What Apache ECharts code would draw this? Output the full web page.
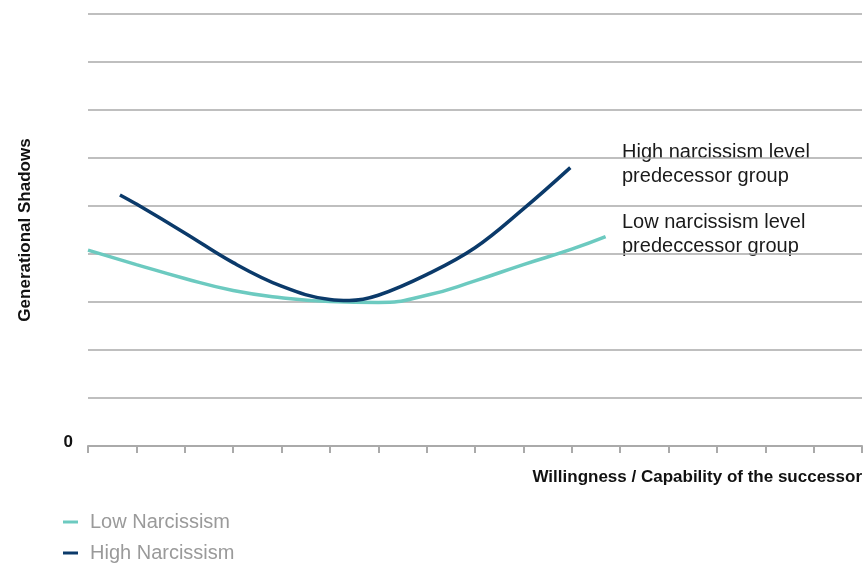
<!DOCTYPE html>
<html>
<head>
<meta charset="utf-8">
<script src="https://cdn.jsdelivr.net/npm/echarts@6/dist/echarts.min.js"></script>
<style>
  html, body { margin: 0; padding: 0; background: #fff; }
  #chart { width: 865px; height: 565px; }
</style>
</head>
<body>
<div id="chart"></div>
<script>
// x positions along the successor axis (0..16), y = generational shadows (0..9)
const lowX  = [0, 1, 2, 3, 4, 5, 6, 7, 8, 9, 10, 10.7];
const lowY  = [4.08, 3.78, 3.49, 3.24, 3.09, 3.01, 2.99, 3.14, 3.44, 3.78, 4.10, 4.36];
const highX = [0.66, 1, 2, 3, 4, 5, 5.4, 6, 7, 8, 9, 9.97];
const highY = [5.23, 5.04, 4.44, 3.82, 3.33, 3.05, 3.03, 3.14, 3.57, 4.13, 4.94, 5.80];

const seriesNames = ['Low Narcissism', 'High Narcissism'];
const seriesColors = ['#6ccac0', '#0b3a6a'];
const annotations = [
  ['High narcissism level', 'predecessor group'],
  ['Low narcissism level', 'predeccessor group']
];

const font = '"Liberation Sans", Arial, sans-serif';
const chart = echarts.init(document.getElementById('chart'));

function pairs(xs, ys) {
  return xs.map((x, i) => [x, ys[i]]);
}

chart.setOption({
  animation: false,
  textStyle: { fontFamily: font },
  grid: { left: 88, right: 1, top: 14, bottom: 119 },
  legend: {
    orient: 'vertical',
    left: 63,
    top: 512,
    padding: 0,
    icon: 'rect',
    itemWidth: 15,
    itemHeight: 3,
    itemGap: 11,
    data: seriesNames,
    textStyle: { color: '#9a9a9a', fontSize: 20, fontFamily: font, padding: [0, 0, 0, 7] }
  },
  xAxis: {
    type: 'value',
    min: 0,
    max: 16,
    interval: 1,
    name: 'Willingness / Capability of the successor',
    nameLocation: 'end',
    nameGap: 0,
    nameTextStyle: {
      align: 'right', verticalAlign: 'top', padding: [23, 0, 0, 0],
      fontWeight: 'bold', fontSize: 17, color: '#111', fontFamily: font
    },
    axisLine: { show: true, lineStyle: { color: '#aaaaaa', width: 2 } },
    axisTick: { show: true, length: 7, lineStyle: { color: '#aaaaaa', width: 2 } },
    axisLabel: { show: false },
    splitLine: { show: false }
  },
  yAxis: {
    type: 'value',
    min: 0,
    max: 9,
    interval: 1,
    name: 'Generational Shadows',
    nameLocation: 'middle',
    nameGap: 54,
    nameRotate: 90,
    nameTextStyle: { fontWeight: 'bold', fontSize: 17, color: '#111', fontFamily: font },
    axisLine: { show: false },
    axisTick: { show: false },
    axisLabel: {
      margin: 15,
      fontWeight: 'bold', fontSize: 17, color: '#111',
      verticalAlign: 'bottom', lineHeight: 8,
      formatter: v => (v === 0 ? '0' : '')
    },
    splitLine: { lineStyle: { color: '#aaaaaa', width: 1.5 } }
  },
  graphic: annotations.map((lines, i) => ({
    type: 'text',
    left: 622,
    top: i === 0 ? 140 : 210,
    style: {
      text: lines.join('\n'),
      font: '20px ' + font,
      fill: '#1a1a1a',
      lineHeight: 24
    }
  })),
  series: [
    {
      name: seriesNames[0],
      type: 'line',
      smooth: 0.5,
      showSymbol: false,
      data: pairs(lowX, lowY),
      itemStyle: { color: seriesColors[0] },
      lineStyle: { color: seriesColors[0], width: 3.5 }
    },
    {
      name: seriesNames[1],
      type: 'line',
      smooth: 0.4,
      showSymbol: false,
      data: pairs(highX, highY),
      itemStyle: { color: seriesColors[1] },
      lineStyle: { color: seriesColors[1], width: 3.5 }
    }
  ]
});
</script>
</body>
</html>
